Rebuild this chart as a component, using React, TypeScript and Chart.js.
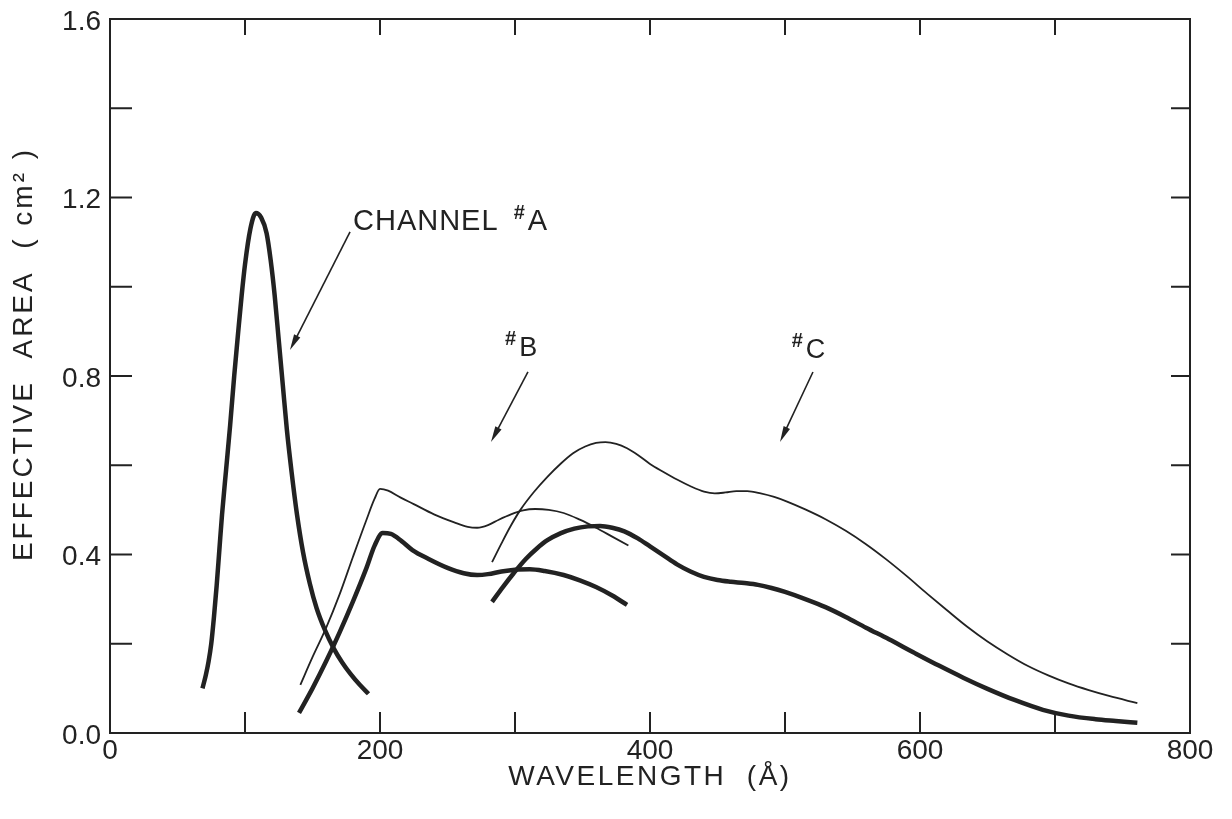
import React, { useEffect, useRef } from "react";
import { Chart, registerables } from "chart.js";

Chart.register(...registerables);

// Wavelength samples (Å) and effective area (cm²) for each detector channel
const channelAX = [68.5, 71, 73, 75, 77, 79, 81, 83, 86, 89, 92, 95, 97.5, 100, 104, 108, 112, 116, 119, 122, 125, 128, 131, 134.5, 138.5, 143, 148, 153, 159, 166, 172, 178, 185, 191.5];
const channelAY = [0.1, 0.13, 0.16, 0.2, 0.26, 0.33, 0.41, 0.49, 0.59, 0.69, 0.8, 0.9, 0.98, 1.05, 1.13, 1.165, 1.155, 1.12, 1.06, 0.98, 0.88, 0.78, 0.68, 0.585, 0.49, 0.405, 0.335, 0.28, 0.232, 0.188, 0.158, 0.133, 0.108, 0.088];

const channelBUpperX = [141, 150, 160, 170, 180, 190, 196, 200, 206, 215, 225, 240, 255, 265, 272, 280, 288, 297, 306, 315, 325, 336, 348, 360, 372, 384];
const channelBUpperY = [0.108, 0.17, 0.235, 0.31, 0.395, 0.478, 0.525, 0.547, 0.543, 0.528, 0.513, 0.49, 0.472, 0.462, 0.46, 0.466, 0.478, 0.49, 0.499, 0.502, 0.5, 0.493, 0.478, 0.46, 0.44, 0.42];

const channelBLowerX = [140, 150, 160, 170, 180, 190, 196, 202, 208, 216, 224, 236, 250, 262, 272, 280, 290, 300, 311, 322, 336, 348, 360, 372, 383];
const channelBLowerY = [0.045, 0.1, 0.16, 0.225, 0.295, 0.37, 0.42, 0.448, 0.446, 0.43, 0.41, 0.39, 0.37, 0.358, 0.354, 0.356, 0.362, 0.366, 0.367, 0.363, 0.354, 0.342, 0.327, 0.308, 0.287];

const channelCUpperX = [283, 290, 297, 304, 314, 324, 334, 343, 352, 360, 367, 375, 383, 391, 400, 410, 420, 430, 440, 448, 456, 464, 472, 482, 492, 502, 515, 530, 545, 560, 575, 590, 605, 620, 635, 650, 665, 680, 695, 710, 725, 740, 761];
const channelCUpperY = [0.383, 0.425, 0.465, 0.5, 0.54, 0.574, 0.604, 0.627, 0.642, 0.65, 0.652, 0.648, 0.638, 0.623, 0.603, 0.585, 0.568, 0.553, 0.541, 0.537, 0.539, 0.542, 0.542, 0.537, 0.529, 0.518, 0.501, 0.479, 0.453, 0.423, 0.389, 0.352, 0.313, 0.275, 0.238, 0.205, 0.176, 0.15, 0.129, 0.111, 0.096, 0.083, 0.067];

const channelCLowerX = [283, 291, 299, 308, 316, 324, 334, 344, 354, 363, 372, 381, 391, 400, 410, 420, 430, 440, 450, 460, 470, 480, 490, 500, 515, 530, 545, 560, 577, 595, 614, 632, 650, 670, 691, 710, 730, 745, 761];
const channelCLowerY = [0.294, 0.327, 0.358, 0.39, 0.413, 0.432, 0.448, 0.458, 0.463, 0.464, 0.46, 0.452, 0.436, 0.418, 0.398, 0.378, 0.362, 0.35, 0.343, 0.339, 0.336, 0.332, 0.325, 0.316, 0.3, 0.282, 0.26, 0.236, 0.21, 0.181, 0.151, 0.124, 0.099, 0.074, 0.052, 0.039, 0.031, 0.027, 0.023];

// Axis ticks and labels
const xTickValues = [0, 100, 200, 300, 400, 500, 600, 700, 800];
const xLabelValues = [0, 200, 400, 600, 800];
const xLabels = ["0", "200", "400", "600", "800"];
const yTickValues = [0, 0.2, 0.4, 0.6, 0.8, 1.0, 1.2, 1.4, 1.6];
const yLabelValues = [0, 0.4, 0.8, 1.2, 1.6];
const yLabels = ["0.0", "0.4", "0.8", "1.2", "1.6"];

const xTitle = "WAVELENGTH  (Å)";
const yTitle = "EFFECTIVE  AREA  ( cm² )";

// Callouts: label anchor and arrow tail/head in data units
const calloutA = { text: "CHANNEL ", tag: "A", size: 29, at: [180, 1.127], from: [177.8, 1.123], to: [133.3, 0.858] };
const calloutB = { text: "", tag: "B", size: 27, at: [292.6, 0.845], from: [309.6, 0.809], to: [282.2, 0.652] };
const calloutC = { text: "", tag: "C", size: 27, at: [505, 0.84], from: [520.7, 0.809], to: [496.3, 0.652] };

const INK = "#222222";
const FONT = '"Liberation Sans", Arial, sans-serif';

const toPoints = (xs: number[], ys: number[]) => xs.map((x, i) => ({ x, y: ys[i] }));

const decorPlugin = {
  id: "decor",
  afterDraw(chart: any) {
    const { ctx, chartArea, scales } = chart;
    const { left, right, top, bottom } = chartArea;
    const xs = scales.x;
    const ys = scales.y;
    const px = (v: number) => xs.getPixelForValue(v);
    const py = (v: number) => ys.getPixelForValue(v);

    ctx.save();
    ctx.strokeStyle = INK;
    ctx.fillStyle = INK;
    ctx.lineCap = "butt";

    // frame
    ctx.lineWidth = 2;
    ctx.strokeRect(left, top, right - left, bottom - top);

    // inward ticks on all four sides
    const tl = 19;
    ctx.beginPath();
    xTickValues.forEach((v) => {
      if (v === 0 || v === 800) return;
      const xp = px(v);
      ctx.moveTo(xp, bottom);
      ctx.lineTo(xp, bottom - tl - 2);
      ctx.moveTo(xp, top);
      ctx.lineTo(xp, top + tl - 3);
    });
    yTickValues.forEach((v) => {
      if (v === 0 || v === 1.6) return;
      const yp = py(v);
      ctx.moveTo(left, yp);
      ctx.lineTo(left + tl + 3, yp);
      ctx.moveTo(right, yp);
      ctx.lineTo(right - tl, yp);
    });
    ctx.stroke();

    // tick labels
    ctx.font = `28px ${FONT}`;
    ctx.textAlign = "center";
    ctx.textBaseline = "top";
    xLabelValues.forEach((v, i) => ctx.fillText(xLabels[i], px(v), bottom + 4));
    ctx.textAlign = "right";
    ctx.textBaseline = "middle";
    yLabelValues.forEach((v, i) => ctx.fillText(yLabels[i], left - 9, py(v) + 3));

    // axis titles
    (ctx as any).letterSpacing = "2.5px";
    ctx.font = `28px ${FONT}`;
    ctx.textAlign = "center";
    ctx.textBaseline = "middle";
    ctx.fillText(xTitle, px(400), bottom + 44);
    ctx.save();
    ctx.translate(left - 86, (top + bottom) / 2 - 22);
    ctx.rotate(-Math.PI / 2);
    (ctx as any).letterSpacing = "3px";
    ctx.fillText(yTitle, 0, 0);
    ctx.restore();
    (ctx as any).letterSpacing = "0px";

    // callouts
    [calloutA, calloutB, calloutC].forEach((c) => {
      let x = px(c.at[0]);
      const base = py(c.at[1]);
      ctx.textAlign = "left";
      ctx.textBaseline = "alphabetic";
      ctx.font = `${c.size}px ${FONT}`;
      if (c.text) {
        (ctx as any).letterSpacing = "1px";
        ctx.fillText(c.text, x, base);
        x += ctx.measureText(c.text).width + 6;
        (ctx as any).letterSpacing = "0px";
      }
      ctx.font = `bold 20px ${FONT}`;
      ctx.fillText("#", x, base - 11);
      x += ctx.measureText("#").width + 3;
      ctx.font = `${c.size}px ${FONT}`;
      ctx.fillText(c.tag, x, base);

      // arrow shaft and head
      const x0 = px(c.from[0]);
      const y0 = py(c.from[1]);
      const x1 = px(c.to[0]);
      const y1 = py(c.to[1]);
      const ang = Math.atan2(y1 - y0, x1 - x0);
      const hl = 16;
      const hw = 3.5;
      ctx.lineWidth = 1.6;
      ctx.beginPath();
      ctx.moveTo(x0, y0);
      ctx.lineTo(x1 - Math.cos(ang) * hl * 0.6, y1 - Math.sin(ang) * hl * 0.6);
      ctx.stroke();
      ctx.beginPath();
      ctx.moveTo(x1, y1);
      ctx.lineTo(x1 - Math.cos(ang) * hl - Math.sin(ang) * hw, y1 - Math.sin(ang) * hl + Math.cos(ang) * hw);
      ctx.lineTo(x1 - Math.cos(ang) * hl + Math.sin(ang) * hw, y1 - Math.sin(ang) * hl - Math.cos(ang) * hw);
      ctx.closePath();
      ctx.fill();
    });

    ctx.restore();
  },
};

export default function App() {
  const ref = useRef<HTMLCanvasElement | null>(null);

  useEffect(() => {
    if (!ref.current) return;
    const base = { borderColor: INK, pointRadius: 0, showLine: true, cubicInterpolationMode: "monotone" as const, fill: false };
    const thick = { ...base, borderWidth: 4.5 };
    const thin = { ...base, borderWidth: 1.8 };
    const chart = new Chart(ref.current, {
      type: "scatter",
      data: {
        datasets: [
          { label: "Channel A", data: toPoints(channelAX, channelAY), ...thick },
          { label: "Channel B (upper)", data: toPoints(channelBUpperX, channelBUpperY), ...thin },
          { label: "Channel B (lower)", data: toPoints(channelBLowerX, channelBLowerY), ...thick },
          { label: "Channel C (upper)", data: toPoints(channelCUpperX, channelCUpperY), ...thin },
          { label: "Channel C (lower)", data: toPoints(channelCLowerX, channelCLowerY), ...thick },
        ],
      },
      options: {
        animation: false,
        responsive: false,
        layout: { padding: { left: 110, right: 42, top: 19, bottom: 86 } },
        plugins: { legend: { display: false }, tooltip: { enabled: false } },
        scales: {
          x: { type: "linear", min: 0, max: 800, display: false },
          y: { type: "linear", min: 0, max: 1.6, display: false },
        },
      },
      plugins: [decorPlugin],
    });
    return () => chart.destroy();
  }, []);

  return (
    <div style={{ position: "fixed", left: 0, top: 0, width: 1232, height: 819, background: "#fff" }}>
      <canvas ref={ref} width={1232} height={819} />
    </div>
  );
}
